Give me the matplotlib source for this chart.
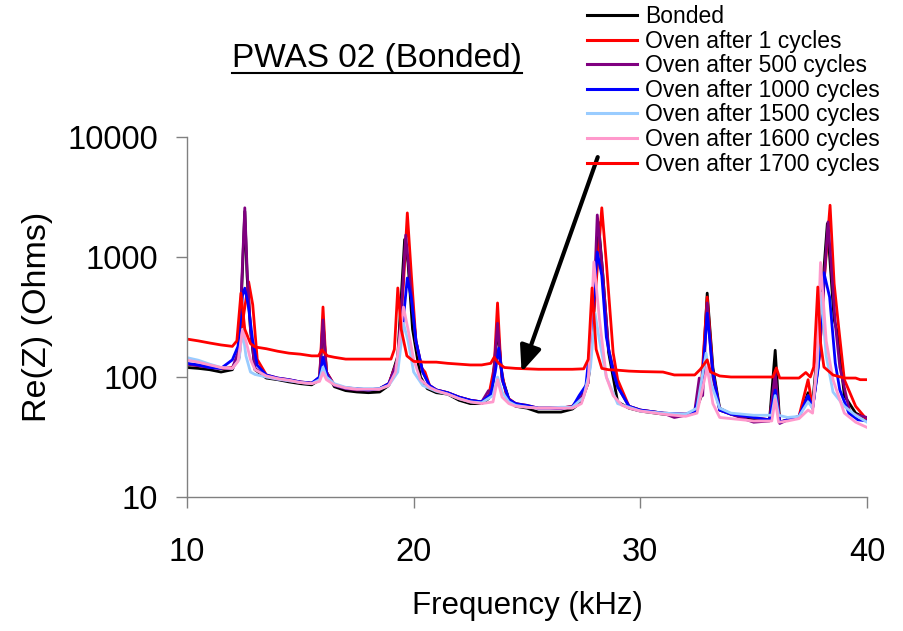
import matplotlib
matplotlib.use('Agg')
import matplotlib.pyplot as plt
from matplotlib.lines import Line2D
from matplotlib.ticker import NullLocator

plt.rcParams['font.family'] = ['Liberation Sans', 'DejaVu Sans']

# ---------------- data (frequency in kHz, Re(Z) in Ohms) ----------------
bonded_f = [10.0, 10.5, 11.0, 11.5, 12.0, 12.3, 12.45, 12.55, 12.65, 12.8, 13.0, 13.5, 14.0, 14.5, 15.0, 15.5,
            15.85, 16.0, 16.15, 16.5, 17.0, 17.5, 18.0, 18.5, 18.9, 19.3, 19.6, 19.75, 19.95, 20.3, 20.6, 21.0,
            21.5, 22.0, 22.5, 23.0, 23.3, 23.5, 23.7, 23.9, 24.2, 24.5, 25.0, 25.5, 26.0, 26.5, 27.0, 27.4,
            27.7, 27.95, 28.15, 28.35, 28.6, 29.0, 29.5, 30.0, 31.0, 32.0, 32.4, 32.7, 32.95, 33.2, 33.5, 34.0,
            35.0, 35.7, 35.95, 36.15, 36.5, 37.0, 37.4, 37.6, 37.9, 38.25, 38.55, 38.7, 39.0, 39.5, 40.0]
bonded_v = [120, 118, 115, 110, 115, 160, 800, 2400, 700, 250, 115, 98, 95, 91, 88, 86,
            95, 290, 110, 83, 77, 75, 74, 75, 85, 150, 1400, 900, 250, 100, 80, 74,
            72, 64, 60, 60, 66, 90, 260, 100, 65, 57, 55, 51, 51, 51, 54, 62,
            90, 350, 1950, 700, 160, 62, 55, 52, 49, 48, 50, 70, 500, 120, 55, 49,
            44, 44, 167, 42, 44, 46, 74, 60, 250, 1900, 300, 233, 70, 50, 45]

one_f = [10.0, 10.5, 11.0, 11.5, 12.0, 12.3, 12.5, 12.72, 12.9, 13.1, 13.5, 14.0, 14.5, 15.0, 15.5, 15.85,
         16.0, 16.15, 16.5, 17.0, 17.5, 18.0, 18.5, 18.9, 19.3, 19.55, 19.72, 19.9, 20.1, 20.35, 20.5, 20.7,
         21.0, 21.5, 22.0, 22.5, 23.0, 23.3, 23.55, 23.7, 23.85, 24.1, 24.5, 25.0, 25.5, 26.0, 26.5, 27.0,
         27.4, 27.7, 28.0, 28.3, 28.5, 28.8, 29.0, 29.5, 30.0, 31.0, 32.0, 32.4, 32.7, 32.95, 33.2, 33.5,
         34.0, 35.0, 35.7, 35.95, 36.15, 36.5, 37.0, 37.4, 37.6, 37.9, 38.1, 38.37, 38.55, 38.75, 39.0, 39.5, 40.0]
one_v = [128, 125, 122, 118, 120, 145, 330, 620, 400, 140, 104, 98, 95, 91, 89, 95,
         383, 110, 86, 81, 80, 78, 80, 88, 140, 600, 2330, 700, 200, 119, 110, 85,
         78, 74, 68, 64, 62, 68, 120, 414, 120, 68, 60, 58, 55, 55, 55, 57,
         68, 95, 450, 2570, 900, 160, 95, 57, 53, 50, 49, 52, 90, 464, 110, 53,
         49, 46, 44, 95, 42, 44, 47, 95, 55, 150, 600, 2700, 600, 260, 95, 57, 44]

p500_f = [10.0, 10.5, 11.0, 11.5, 12.0, 12.3, 12.45, 12.55, 12.65, 12.8, 13.0, 13.5, 14.0, 14.5, 15.0, 15.5,
          15.85, 16.0, 16.15, 16.5, 17.0, 17.5, 18.0, 18.5, 18.9, 19.3, 19.5, 19.65, 19.85, 20.1, 20.4, 20.7,
          21.0, 21.5, 22.0, 22.5, 23.0, 23.3, 23.45, 23.7, 23.9, 24.2, 24.5, 25.0, 25.5, 26.0, 26.5, 27.0,
          27.4, 27.7, 27.95, 28.1, 28.3, 28.6, 29.0, 29.5, 30.0, 31.0, 31.5, 32.0, 32.4, 32.6, 32.75, 32.95,
          33.2, 33.5, 34.0, 35.0, 35.7, 35.95, 36.15, 36.5, 37.0, 37.4, 37.6, 37.9, 38.1, 38.28, 38.6, 38.8,
          39.25, 39.6, 40.0]
p500_v = [128, 124, 120, 118, 118, 170, 900, 2570, 800, 250, 118, 100, 96, 93, 90, 88,
          100, 299, 110, 85, 80, 78, 78, 80, 88, 140, 500, 1524, 600, 200, 110, 85,
          78, 74, 68, 64, 62, 77, 70, 280, 95, 65, 60, 57, 55, 55, 55, 57,
          68, 90, 400, 2240, 900, 170, 83, 57, 53, 50, 46, 48, 52, 98, 70, 414,
          100, 53, 49, 42, 43, 109, 41, 44, 46, 70, 55, 150, 600, 1960, 280, 121,
          50, 48, 46]

b1000_f = [10.0, 10.5, 11.0, 11.5, 12.0, 12.25, 12.45, 12.55, 12.7, 12.9, 13.1, 13.5, 14.0, 14.5, 15.0, 15.5,
           15.85, 16.0, 16.2, 16.5, 17.0, 17.5, 18.0, 18.5, 18.9, 19.2, 19.5, 19.72, 19.9, 20.1, 20.4, 20.7,
           21.0, 21.5, 22.0, 22.5, 23.0, 23.4, 23.6, 23.75, 23.95, 24.2, 24.5, 25.0, 25.5, 26.0, 26.5, 27.0,
           27.3, 27.6, 27.85, 28.1, 28.3, 28.5, 28.8, 29.0, 29.5, 30.0, 31.0, 32.0, 32.4, 32.7, 32.95, 33.2,
           33.5, 34.0, 35.0, 35.7, 35.95, 36.15, 36.5, 37.0, 37.4, 37.6, 37.85, 38.1, 38.35, 38.6, 38.8, 39.2,
           39.6, 40.0]
b1000_v = [130, 126, 120, 118, 139, 180, 480, 550, 400, 200, 125, 104, 98, 95, 91, 89,
           100, 146, 100, 86, 81, 80, 78, 80, 88, 110, 250, 668, 450, 200, 110, 85,
           78, 74, 68, 64, 62, 72, 110, 174, 90, 65, 60, 58, 55, 55, 55, 56,
           70, 85, 250, 1100, 700, 215, 110, 83, 57, 53, 50, 49, 52, 80, 340, 110,
           53, 49, 46, 44, 78, 42, 44, 47, 70, 55, 120, 740, 464, 131, 78, 50,
           44, 43]

lb1500_f = [10.0, 10.5, 11.0, 11.5, 12.0, 12.3, 12.45, 12.6, 12.8, 13.0, 13.5, 14.0, 14.5, 15.0, 15.5, 15.85,
            16.0, 16.15, 16.5, 17.0, 17.5, 18.0, 18.5, 18.9, 19.3, 19.55, 19.75, 20.0, 20.4, 21.0, 21.5, 22.0,
            22.5, 23.0, 23.5, 23.7, 23.9, 24.2, 24.5, 25.0, 25.5, 26.0, 26.5, 27.0, 27.5, 27.8, 28.0, 28.2,
            28.5, 29.0, 29.5, 30.0, 31.0, 32.0, 32.5, 32.9, 33.1, 33.5, 34.0, 35.0, 35.8, 35.95, 36.1, 36.5,
            37.0, 37.4, 37.6, 37.8, 37.97, 38.2, 38.5, 39.0, 39.5, 40.0]
lb1500_v = [145, 138, 128, 120, 118, 140, 250, 150, 110, 105, 100, 96, 93, 90, 88, 95,
            121, 100, 88, 82, 80, 80, 80, 85, 110, 280, 200, 110, 85, 76, 72, 66,
            62, 61, 70, 100, 75, 62, 58, 56, 55, 55, 56, 56, 68, 120, 340, 200,
            100, 60, 56, 52, 50, 49, 55, 158, 90, 55, 50, 48, 48, 70, 48, 46,
            47, 62, 55, 120, 500, 150, 75, 57, 48, 42]

pk1600_f = [10.0, 10.5, 11.0, 11.5, 12.0, 12.25, 12.45, 12.6, 12.8, 13.0, 13.5, 14.0, 14.5, 15.0, 15.5, 15.85,
            16.0, 16.15, 16.5, 17.0, 17.5, 18.0, 18.5, 18.9, 19.2, 19.55, 19.75, 20.0, 20.3, 20.7, 21.0, 21.5,
            22.0, 22.5, 23.0, 23.5, 23.7, 23.9, 24.2, 24.5, 25.0, 25.5, 26.0, 26.5, 27.0, 27.4, 27.7, 27.95,
            28.2, 28.5, 28.8, 29.2, 29.5, 30.0, 31.0, 32.0, 32.5, 32.95, 33.2, 33.5, 34.0, 35.0, 35.8, 35.95,
            36.1, 36.5, 37.0, 37.4, 37.6, 37.8, 37.95, 38.2, 38.5, 39.0, 39.5, 40.0]
pk1600_v = [138, 133, 126, 120, 118, 135, 246, 200, 140, 115, 102, 97, 94, 90, 88, 92,
            109, 95, 86, 81, 79, 79, 79, 85, 110, 383, 250, 140, 95, 82, 77, 72,
            66, 62, 60, 62, 95, 68, 60, 57, 56, 55, 55, 55, 55, 60, 90, 910,
            300, 100, 70, 58, 55, 52, 49, 47, 50, 120, 60, 46, 45, 43, 43, 65,
            42, 43, 45, 53, 50, 150, 900, 200, 95, 50, 42, 38]

r1700_f = [10.0, 10.5, 11.0, 11.5, 12.0, 12.2, 12.38, 12.55, 12.8, 13.0, 13.5, 14.0, 14.5, 15.0, 15.5, 15.8,
           15.95, 16.2, 16.5, 17.0, 17.5, 18.0, 18.5, 19.0, 19.15, 19.3, 19.45, 19.7, 20.0, 20.5, 21.0, 21.5,
           22.0, 22.5, 23.0, 23.4, 23.55, 23.75, 24.0, 24.5, 25.0, 25.5, 26.0, 26.5, 27.0, 27.5, 27.7, 27.87,
           28.05, 28.3, 28.6, 29.0, 29.5, 30.0, 31.0, 31.5, 32.0, 32.4, 32.65, 32.95, 33.1, 33.5, 34.0, 34.5,
           35.0, 35.5, 35.85, 36.0, 36.15, 36.5, 37.0, 37.3, 37.5, 37.65, 37.83, 37.95, 38.1, 38.5, 39.0, 39.5,
           39.7, 40.0]
r1700_v = [207, 200, 192, 185, 180, 200, 500, 250, 190, 178, 172, 164, 158, 155, 150, 150,
           168, 150, 146, 141, 141, 141, 141, 141, 170, 552, 250, 150, 135, 133, 133, 130,
           128, 126, 126, 130, 146, 130, 120, 118, 117, 116, 116, 116, 116, 117, 140, 552,
           170, 118, 115, 114, 112, 111, 110, 104, 104, 104, 116, 139, 110, 102, 100, 100,
           100, 100, 100, 119, 98, 98, 98, 109, 100, 121, 562, 193, 121, 104, 98, 98,
           95, 95]

series_labels = ["Bonded", "Oven after 1 cycles", "Oven after 500 cycles", "Oven after 1000 cycles",
                 "Oven after 1500 cycles", "Oven after 1600 cycles", "Oven after 1700 cycles"]
series_freqs = [bonded_f, one_f, p500_f, b1000_f, lb1500_f, pk1600_f, r1700_f]
series_vals = [bonded_v, one_v, p500_v, b1000_v, lb1500_v, pk1600_v, r1700_v]
series_colors = ["#000000", "#FF0000", "#800080", "#0000FF", "#99CCFF", "#FF99CC", "#FF0000"]

x_ticks = [10, 20, 30, 40]
y_ticks = [10, 100, 1000, 10000]
y_tick_labels = ["10", "100", "1000", "10000"]

# arrow annotation (data coordinates)
arrow_tail = (28.12, 6800)
arrow_tip = (24.76, 110)

# ---------------- figure ----------------
W, H = 904, 631
fig = plt.figure(figsize=(W / 100, H / 100), dpi=100)
ax = fig.add_axes([187 / W, 1 - 497 / H, 680 / W, 360 / H])

for lab, f, v, c in zip(series_labels, series_freqs, series_vals, series_colors):
    ax.plot(f, v, color=c, lw=2.0, label=lab, solid_joinstyle='round')

ax.set_yscale('log')
ax.set_xlim(10, 40)
ax.set_ylim(10, 10000)
ax.set_xticks(x_ticks)
ax.set_xticklabels([str(t) for t in x_ticks])
ax.set_yticks(y_ticks)
ax.set_yticklabels(y_tick_labels)
ax.yaxis.set_minor_locator(NullLocator())
ax.xaxis.set_minor_locator(NullLocator())

for s in ['top', 'right']:
    ax.spines[s].set_visible(False)
for s in ['left', 'bottom']:
    ax.spines[s].set_color('#808080')
    ax.spines[s].set_linewidth(1.0)

ax.tick_params(direction='out', length=8, width=1.0, color='#808080', labelsize=23.5)
ax.tick_params(axis='x', pad=21)
ax.tick_params(axis='y', pad=13)

ax.set_xlabel("Frequency (kHz)", fontsize=22.5)
ax.set_ylabel("Re(Z) (Ohms)", fontsize=24.5)
ax.xaxis.set_label_coords(0.5, -0.262)
ax.yaxis.set_label_coords(-0.197, 0.5)

ax.annotate('', xy=arrow_tip, xytext=arrow_tail,
            arrowprops=dict(arrowstyle='-|>,head_length=1.2,head_width=0.5', lw=3,
                            color='black', mutation_scale=13, shrinkA=0, shrinkB=0))

leg = ax.legend(loc='upper left', bbox_to_anchor=(587 / W, 1 - 5 / H), bbox_transform=fig.transFigure,
                frameon=False, fontsize=16.5, handlelength=2.2, handletextpad=0.35,
                labelspacing=0.07, borderpad=0, borderaxespad=0)
for ln in leg.get_lines():
    ln.set_linewidth(2.2)

title_y = 1 - 67 / H
t = fig.text(377 / W, title_y, "PWAS 02 (Bonded)", ha='center', va='baseline', fontsize=24)
fig.canvas.draw()
bb = t.get_window_extent(renderer=fig.canvas.get_renderer())
fig.add_artist(Line2D([bb.x0 / W, bb.x1 / W], [title_y - 6 / H, title_y - 6 / H],
                      transform=fig.transFigure, color='black', lw=1.5))

fig.savefig('out.png', dpi=100)
